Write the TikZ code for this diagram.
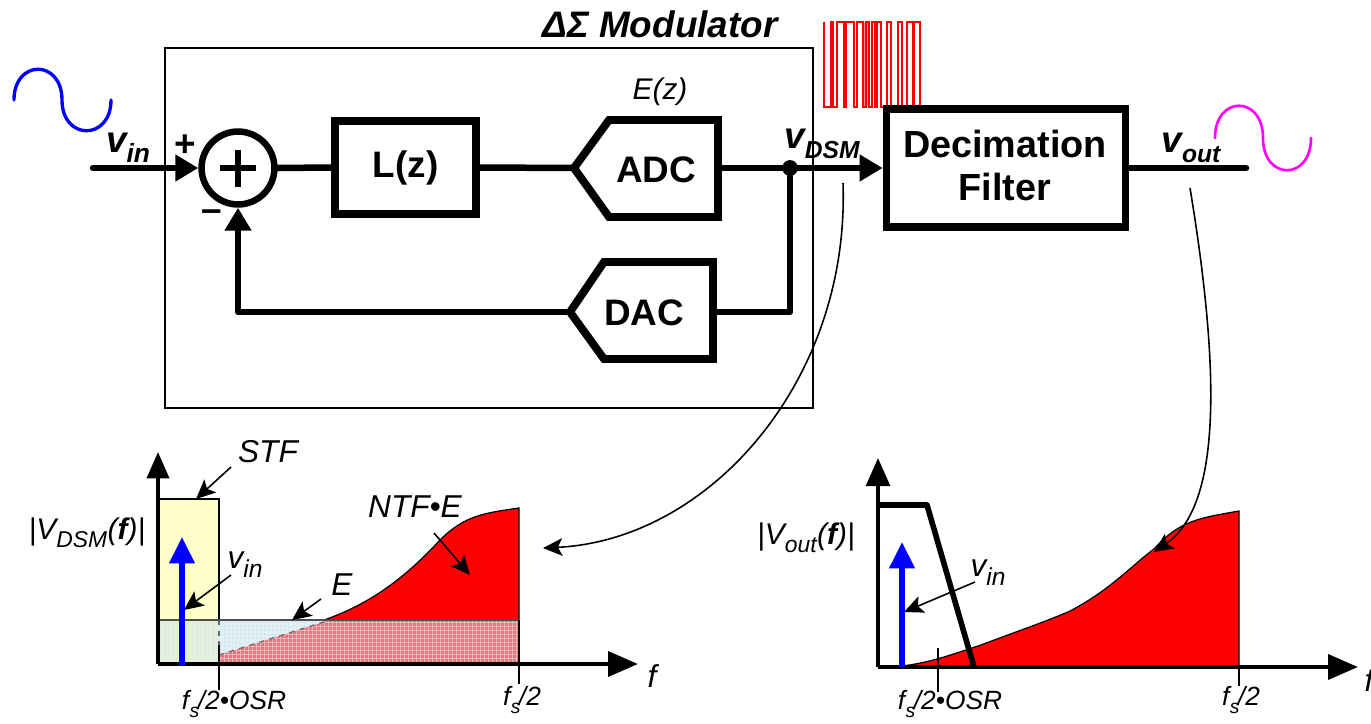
\documentclass[tikz,border=0pt]{standalone}
\usepackage{fontspec}
\setmainfont{Liberation Sans}
\usetikzlibrary{arrows.meta}
\definecolor{stfyellow}{HTML}{FFFFCC}
\definecolor{bandblue}{HTML}{E3F2F8}
\definecolor{bandgreen}{HTML}{E7F2DE}
\definecolor{bandred}{HTML}{E8757D}
\definecolor{gridblue}{HTML}{D6EAF0}
\definecolor{gridgreen}{HTML}{DCEBE0}
\definecolor{gridred}{HTML}{F2B4B4}
\definecolor{waveout}{HTML}{FF00FF}
\definecolor{pureblue}{HTML}{0000FF}
\definecolor{purered}{HTML}{FF0000}
\newcommand{\lowtext}[2]{\raisebox{-.28em}{\fontsize{#1}{#1}\selectfont #2}}
\newcommand{\fsover}[1]{\textit{f\kern.02em\lowtext{11}{s}\kern-.06em/2#1}}
\tikzset{
  x=0.02cm, y=-0.02cm,
  thickline/.style={line width=3.7pt, line cap=round, line join=round},
  bigarrow/.style={thickline, -{Triangle[length=13pt,width=14.5pt]}},
  thinarrow/.style={line width=0.9pt, -{Stealth[length=11pt,width=10pt,inset=2.5pt]}},
  blockbox/.style={draw, line width=4.5pt, inner sep=0pt},
  blocktext/.style={inner sep=0pt, font=\fontsize{21}{25}\selectfont\bfseries, align=center},
  thicklabel/.style={inner sep=0pt, font=\fontsize{21}{25}\selectfont\bfseries\itshape},
  plotlabel/.style={inner sep=0pt, font=\fontsize{18}{22}\selectfont\itshape},
  axislabel/.style={inner sep=0pt, font=\fontsize{17}{21}\selectfont\itshape},
  freqlabel/.style={inner sep=0pt, font=\fontsize{15}{18}\selectfont},
  tick/.style={line width=0.8pt},
  bluearrow/.style={line width=3pt, pureblue, -{Triangle[length=15pt,width=14pt]}},
}
\begin{document}
\begin{tikzpicture}
\useasboundingbox (0,0) rectangle (1371,723);
% modulator frame
\draw [line width=0.8pt] (165,48) rectangle (813,408);
\node [thicklabel] (title) at (660,24) {ΔΣ Modulator};
% input and output waves
\draw [line width=1.9pt, pureblue, line cap=round] (14,100) .. controls (14,59) and (62,59) .. (62,100)
  .. controls (62,141) and (111,141) .. (111,100);
\draw [line width=1.5pt, waveout, line cap=round] (1215,138) .. controls (1215,95) and (1263,95) .. (1263,138)
  .. controls (1263,181) and (1311,181) .. (1311,138);
\fill [purered!45] (863,22) rectangle (869,107);
\draw [line width=1.1pt, purered, line join=miter] (824,22) -- (824,107) -- (831,107) -- (831,22) -- (833,22) -- (833,107)
  -- (837,107) -- (837,22) -- (844,22) -- (844,107) -- (846,107) -- (846,22) -- (854,22) -- (854,107)
  -- (857,107) -- (857,22) -- (863,22) -- (863,107) -- (866,107) -- (866,22) -- (869,22) -- (869,107)
  -- (872,107) -- (872,22) -- (875,22) -- (875,107) -- (877,107) -- (877,22) -- (881,22) -- (881,107)
  -- (887,107) -- (887,22) -- (891,22) -- (891,107) -- (898,107) -- (898,22) -- (902,22) -- (902,107)
  -- (907,107) -- (907,22) -- (913,22) -- (913,107) -- (914,107) -- (914,22) -- (920,22) -- (920,107);
% blocks
\node [circle, draw, line width=3.7pt, minimum size=41.5pt, inner sep=0pt] (summer) at (238,168) {};
\draw [line width=3.4pt] (220,168) -- (256,168);
\draw [line width=3.4pt] (238,150) -- (238,187);
\node [blockbox, minimum width=80.5pt, minimum height=52.7pt] (lz) at (405.5,167.5) {};
\node [blocktext] (lztext) at (405.5,168) {L(z)};
\node [blockbox, minimum width=136pt, minimum height=67.5pt] (filter) at (1006,168) {};
\node [blocktext] (filtertext) at (1005,165.5) {\fontsize{21.5}{25}\selectfont Decimation\\[0pt]\fontsize{21.5}{25}\selectfont Filter};
\draw [line width=4.5pt, line join=miter] (574,168) -- (609,120) -- (718,120) -- (718,217) -- (609,217) -- cycle;
\node [blocktext] (adc) at (656,170) {ADC};
\draw [line width=4.5pt, line join=miter] (570,312) -- (604,262) -- (713,262) -- (713,359) -- (604,359) -- cycle;
\node [blocktext] (dac) at (644,313) {DAC};
\coordinate (adcin) at (572,168);
\coordinate (adcout) at (720,168);
\coordinate (dacin) at (715,312);
\coordinate (dacout) at (568,312);
\coordinate (vinstart) at (93,168);
\coordinate (voutend) at (1246,168);
\node [circle, fill, minimum size=9pt, inner sep=0pt] (junction) at (790,168) {};
% signal path
\draw [bigarrow] (vinstart) -- (summer.west);
\draw [thickline] (summer.east) -- (lz.west);
\draw [thickline] (lz.east) -- (adcin);
\draw [bigarrow] (adcout) -- (filter.west);
\draw [thickline] (junction) |- (dacin);
\draw [bigarrow] (dacout) -| (summer.south);
\draw [thickline] (filter.east) -- (voutend);
% labels of the loop
\node [thicklabel] (vinlabel) at (128,148) {v\lowtext{15}{in}};
\node [thicklabel] (plus) at (185,146) {\normalfont\bfseries +};
\node [thicklabel] (minus) at (212,216) {\normalfont\bfseries –};
\node [axislabel] (ez) at (660,92) {E(z)};
\node [thicklabel] (vdsm) at (822,144) {v\lowtext{14}{DSM}};
\node [thicklabel] (voutlabel) at (1191,148) {v\lowtext{14}{out}};
% left spectrum
\fill [stfyellow] (158,499) rectangle (219,620);
\fill [bandgreen] (158,620) rectangle (219,664);
\fill [bandblue] (219,620) -- (330,620) -- (219,655) -- cycle;
\fill [bandred] (219,655) -- (330,620) -- (519,620) -- (519,664) -- (219,664) -- cycle;
\begin{scope}
\clip (158,620) rectangle (219,664);
\foreach \gx in {160,164,...,219} \draw [line width=0.3pt, gridgreen] (\gx,620) -- (\gx,664);
\foreach \gy in {622,626,...,664} \draw [line width=0.3pt, gridgreen] (158,\gy) -- (219,\gy);
\end{scope}
\begin{scope}
\clip (219,620) -- (330,620) -- (219,655) -- cycle;
\foreach \gx in {220,224,...,330} \draw [line width=0.3pt, gridblue] (\gx,620) -- (\gx,664);
\foreach \gy in {622,626,...,664} \draw [line width=0.3pt, gridblue] (219,\gy) -- (330,\gy);
\end{scope}
\begin{scope}
\clip (219,655) -- (330,620) -- (519,620) -- (519,664) -- (219,664) -- cycle;
\foreach \gx in {220,224,...,519} \draw [line width=0.5pt, gridred] (\gx,620) -- (\gx,664);
\foreach \gy in {622,626,...,664} \draw [line width=0.5pt, gridred] (219,\gy) -- (519,\gy);
\end{scope}
\draw [line width=0.7pt, fill=purered] (324,620) .. controls (370,604) and (405,578) .. (440,540)
  .. controls (465,515) and (485,513) .. (519,508) -- (519,620) -- cycle;
\draw [line width=0.8pt] (158,499) -- (219,499) -- (219,620);
\draw [line width=0.7pt, dashed, black!60] (219,620) -- (219,645);
\draw [line width=0.7pt, dashed, black!60] (219,655) -- (330,620);
\draw [line width=1.1pt, black!70] (158,620) -- (519,620);
\draw [line width=0.9pt] (519,620) -- (519,664);
\coordinate (leftorigin) at (158,664);
\coordinate (lefttop) at (158,452);
\coordinate (leftright) at (638,664);
\draw [line width=2.2pt, -{Triangle[length=15pt,width=12.5pt]}] (leftorigin) -- (lefttop);
\draw [line width=2.6pt, -{Triangle[length=17pt,width=14pt]}] (leftorigin) -- (leftright);
\draw [tick] (219,645) -- (219,690);
\draw [tick] (519,664) -- (519,684);
\draw [bluearrow] (182,666) -- (182,537);
\node [plotlabel] (stf) at (268,452) {STF};
\node [axislabel] (vdsmaxis) at (87,533) {\textbar V\lowtext{13}{DSM}\kern.02em({\bfseries f})\textbar};
\node [plotlabel] (vinleft) at (245,565) {v\lowtext{14}{in}};
\node [plotlabel] (ntfe) at (415,507) {NTF•E};
\node [plotlabel] (elabel) at (342,585) {E};
\node [plotlabel] (fleft) at (652,676) {f};
\node [freqlabel] (osrleft) at (234,704) {\fsover{•OSR}};
\node [freqlabel] (nyqleft) at (522,700) {\fsover{}};
\coordinate (stftip) at (196,499);
\coordinate (vintipleft) at (184,610);
\coordinate (ntftip) at (470,575);
\coordinate (etip) at (292,620);
\coordinate (curvetipleft) at (543,548);
\draw [thinarrow] (231,467) -- (stftip);
\draw [thinarrow] (231,575) -- (vintipleft);
\draw [thinarrow] (434,533) -- (ntftip);
\draw [thinarrow] (321,599) -- (etip);
\draw [thinarrow] (843,183) .. controls (850,380) and (710,540) .. (curvetipleft);
% right spectrum
\draw [line width=0.7pt, fill=purered] (890,667) .. controls (925,665) and (950,655) .. (981,645)
  .. controls (1015,632) and (1045,622) .. (1070,611)
  .. controls (1110,590) and (1130,567) .. (1154,549)
  .. controls (1180,520) and (1200,518) .. (1239,511) -- (1239,667) -- cycle;
\coordinate (rightorigin) at (878,667);
\coordinate (righttop) at (878,458);
\coordinate (rightright) at (1358,667);
\draw [line width=2.2pt, -{Triangle[length=16pt,width=13.5pt]}] (rightorigin) -- (righttop);
\draw [line width=2.6pt, -{Triangle[length=17pt,width=14pt]}] (rightorigin) -- (rightright);
\draw [line width=3.2pt, line join=round] (878,505) -- (927,505) -- (974,667);
\draw [tick] (938,648) -- (938,692);
\draw [tick] (1239,667) -- (1239,686);
\draw [bluearrow] (902,667) -- (902,542);
\node [axislabel] (voutaxis) at (806,538) {\textbar V\lowtext{13}{out}\kern.02em({\bfseries f})\textbar};
\node [plotlabel] (vinright) at (988,573) {v\lowtext{14}{in}};
\node [plotlabel] (fright) at (1369,680) {f};
\node [freqlabel] (osrright) at (950,704) {\fsover{•OSR}};
\node [freqlabel] (nyqright) at (1241,700) {\fsover{}};
\coordinate (vintipright) at (904,612);
\coordinate (curvetipright) at (1154,552);
\draw [thinarrow] (975,582) -- (vintipright);
\draw [thinarrow] (1190,188) .. controls (1225,400) and (1215,510) .. (curvetipright);
\end{tikzpicture}
\end{document}
